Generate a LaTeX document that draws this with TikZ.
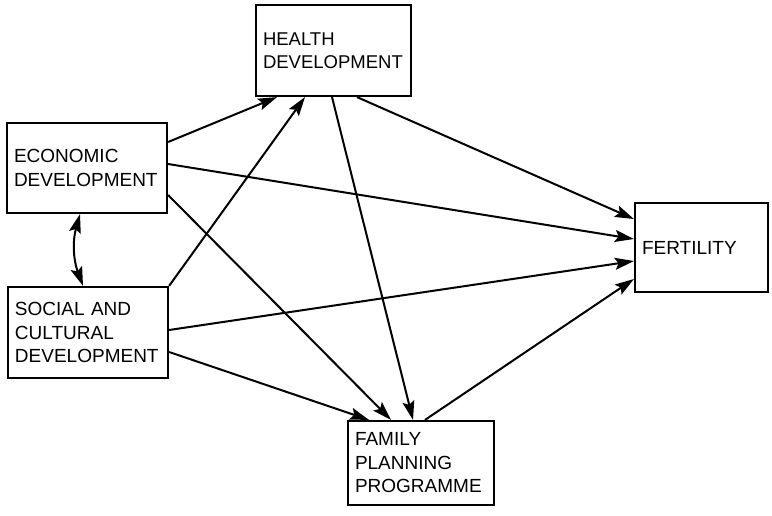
\documentclass[tikz,border=0pt]{standalone}
\usepackage{fontspec}
\setmainfont{Liberation Sans}
\usetikzlibrary{arrows.meta,calc}
\begin{document}
\begin{tikzpicture}[x=1pt,y=-1pt,
  box/.style={draw,line width=2.2pt,inner xsep=7pt,inner ysep=2pt,align=left,
    font=\fontsize{19}{23.5}\selectfont},
  tip/.tip={Stealth[length=19pt,width=12pt,inset=3.5pt]},
  conn/.style={line width=2pt,-tip},
  dconn/.style={line width=2pt,tip-tip}]
\useasboundingbox (0,0) rectangle (772,515);
\node[box,minimum width=155pt,minimum height=91pt,text width=141pt,
  font=\fontsize{18.5}{23.5}\selectfont] (health) at (333.5,50.5) {HEALTH\\DEVELOPMENT};
\node[box,minimum width=160pt,minimum height=90pt,text width=146pt] (econ) at (87,168) {ECONOMIC\\DEVELOPMENT};
\node[box,minimum width=160pt,minimum height=91pt,text width=146pt] (social) at (88,332.5) {SOCIAL AND\\CULTURAL\\DEVELOPMENT};
\node[box,minimum width=146pt,minimum height=84pt,text width=132pt] (family) at (421,463) {FAMILY\\PLANNING\\PROGRAMME};
\node[box,minimum width=133pt,minimum height=89pt,text width=119pt] (fert) at (701.5,247.5) {FERTILITY};
% connectors
\draw[conn] (econ.east |- 0,142) -- (health.south -| 277,0);
\draw[conn] (econ.east |- 0,164) -- (fert.west |- 0,239);
\draw[conn] (econ.east |- 0,195) -- (family.north -| 391,0);
\draw[conn] (health.south -| 357,0) -- (fert.west |- 0,219);
\draw[conn] (health.south -| 332,0) -- (family.north -| 413,0);
\draw[conn] (social.north east) -- (health.south -| 305,0);
\draw[conn] (social.east |- 0,330) -- (fert.west |- 0,261);
\draw[conn] (social.east |- 0,352) -- (family.north -| 369,0);
\draw[conn] (family.north -| 425,0) -- (fert.west |- 0,279);
\draw[dconn] (econ.south -| 80,0) to[bend right=18] (social.north -| 83,0);
\end{tikzpicture}
\end{document}
